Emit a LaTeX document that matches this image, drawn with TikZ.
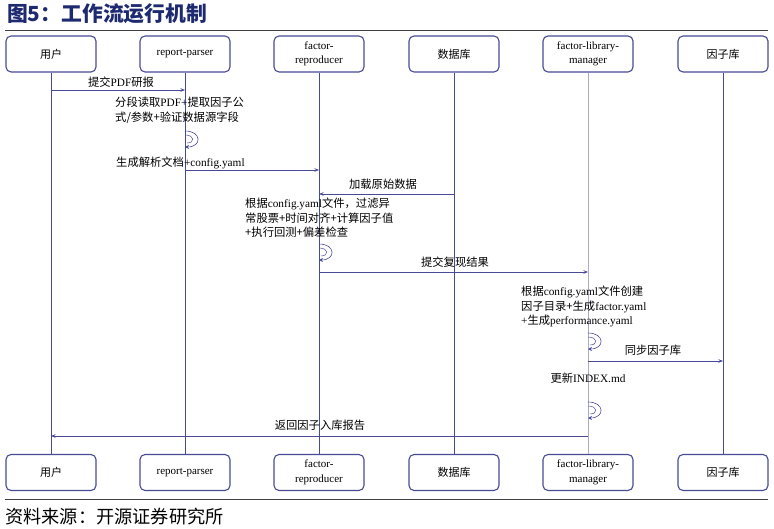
\documentclass[tikz,border=0pt]{standalone}
\usepackage{fontspec}
\setmainfont{Liberation Serif}
\newfontfamily\zh{Noto Sans CJK SC}
\usepackage{xcolor}
\usepackage{tikz}
\usetikzlibrary{arrows.meta, positioning}

\definecolor{seqblue}{RGB}{72,74,150}
\definecolor{seqlight}{RGB}{168,170,210}
\definecolor{titleblue}{RGB}{30,42,112}

\tikzset{
  actor/.style={draw=seqblue, line width=1.1pt, rounded corners=5pt,
    minimum width=90pt, minimum height=36pt, align=center, fill=white,
    inner sep=1pt, font=\fontsize{11}{14.5}\selectfont},
  life/.style={seqblue, line width=0.8pt},
  msg/.style={seqblue, line width=0.7pt, -{Stealth[length=4.5pt,width=3.5pt]}},
  selfmsg/.style={seqblue, line width=0.6pt, -{Stealth[length=4pt,width=4pt,open]}},
  lbl/.style={inner sep=0pt, align=left, font=\fontsize{11.3}{14.6}\selectfont},
}

\begin{document}
\begin{tikzpicture}[x=1pt, y=-1pt]
  \useasboundingbox (0,0) rectangle (774,529);
  % ---------- TITLE / RULES ----------
  \node[anchor=west, inner sep=0pt, text=titleblue,
        font=\zh\bfseries\fontsize{20.8}{22}\selectfont] (title) at (7,14) {图5：工作流运行机制};
  \draw[black!75, line width=1pt] (5,31) -- (768,31);
  \draw[black!75, line width=1pt] (5,499) -- (768,499);
  \node[anchor=west, inner sep=0pt, font=\zh\fontsize{18.2}{20}\selectfont] (src) at (5,517) {资料来源：开源证券研究所};

  % ---------- PARTICIPANTS ----------
  \node[actor] (user)  at (51,54)  {\zh 用户};
  \node[actor] (parser) at (185,54) {report-parser};
  \node[actor] (repro) at (319,54) {factor-\\reproducer};
  \node[actor] (db)    at (454,54) {\zh 数据库};
  \node[actor] (mgr)   at (588,54) {factor-library-\\manager};
  \node[actor] (lib)   at (723,54) {\zh 因子库};

  \node[actor] (userB)  at (51,472.5)  {\zh 用户};
  \node[actor] (parserB) at (185,472.5) {report-parser};
  \node[actor] (reproB) at (319,472.5) {factor-\\reproducer};
  \node[actor] (dbB)    at (454,472.5) {\zh 数据库};
  \node[actor] (mgrB)   at (588,472.5) {factor-library-\\manager};
  \node[actor] (libB)   at (723,472.5) {\zh 因子库};

  % ---------- LIFELINES ----------
  \draw[life] (user) -- (userB);
  \draw[life] (parser) -- (parserB);
  \draw[life] (repro) -- (reproB);
  \draw[life] (db) -- (dbB);
  \draw[life, seqlight] (mgr) -- (mgrB);
  \draw[life] (lib) -- (libB);

  % ---------- MESSAGES ----------
  \coordinate (m1) at (0,90);
  \draw[msg] (user |- m1) -- (parser |- m1);
  \node[lbl] (t1) at (121,82) {{\zh 提交}PDF{\zh 研报}};

  \node[lbl, anchor=north west] (t2) at (115,97) {{\zh 分段读取}PDF+{\zh 提取因子公}\\{\zh 式/参数+验证数据源字段}};
  \coordinate (s2a) at (0,131);
  \coordinate (s2b) at (0,147);
  \draw[selfmsg] (parser |- s2a) .. controls +(17,0) and +(17,0) .. (parser |- s2b);
  \draw[seqblue, line width=0.5pt] (parser |- s2a) ++(0,4) .. controls +(10,0) and +(8,0) .. ++(2,8);

  \coordinate (m3) at (0,170);
  \draw[msg] (parser |- m3) -- (repro |- m3);
  \node[lbl, anchor=west] (t3) at (116,163) {{\zh 生成解析文档}+config.yaml};

  \coordinate (m4) at (0,194);
  \draw[msg] (db |- m4) -- (repro |- m4);
  \node[lbl] (t4) at (383,184) {\zh 加载原始数据};

  \node[lbl, anchor=north west] (t5) at (245,198) {{\zh 根据}config.yaml{\zh 文件，过滤异}\\{\zh 常股票+时间对齐+计算因子值}\\{\zh +执行回测+偏差检查}};
  \coordinate (s5a) at (0,244);
  \coordinate (s5b) at (0,260);
  \draw[selfmsg] (repro |- s5a) .. controls +(17,0) and +(17,0) .. (repro |- s5b);
  \draw[seqblue, line width=0.5pt] (repro |- s5a) ++(0,4) .. controls +(10,0) and +(8,0) .. ++(2,8);

  \coordinate (m6) at (0,272);
  \draw[msg] (repro |- m6) -- (mgr |- m6);
  \node[lbl] (t6) at (455,262) {\zh 提交复现结果};

  \node[lbl, anchor=north west] (t7) at (521,286) {{\zh 根据}config.yaml{\zh 文件创建}\\{\zh 因子目录+生成}factor.yaml\\+{\zh 生成}performance.yaml};
  \coordinate (s7a) at (0,333);
  \coordinate (s7b) at (0,349);
  \draw[selfmsg] (mgr |- s7a) .. controls +(17,0) and +(17,0) .. (mgr |- s7b);
  \draw[seqblue, line width=0.5pt] (mgr |- s7a) ++(0,4) .. controls +(10,0) and +(8,0) .. ++(2,8);

  \coordinate (m8) at (0,361);
  \draw[msg] (mgr |- m8) -- (lib |- m8);
  \node[lbl] (t8) at (653,350) {\zh 同步因子库};

  \node[lbl] (t9) at (588,378) {{\zh 更新}INDEX.md};
  \coordinate (s9a) at (0,402);
  \coordinate (s9b) at (0,418);
  \draw[selfmsg] (mgr |- s9a) .. controls +(17,0) and +(17,0) .. (mgr |- s9b);
  \draw[seqblue, line width=0.5pt] (mgr |- s9a) ++(0,4) .. controls +(10,0) and +(8,0) .. ++(2,8);

  \coordinate (m10) at (0,436);
  \draw[msg] (mgr |- m10) -- (user |- m10);
  \node[lbl] (t10) at (320,425) {\zh 返回因子入库报告};
\end{tikzpicture}
\end{document}
